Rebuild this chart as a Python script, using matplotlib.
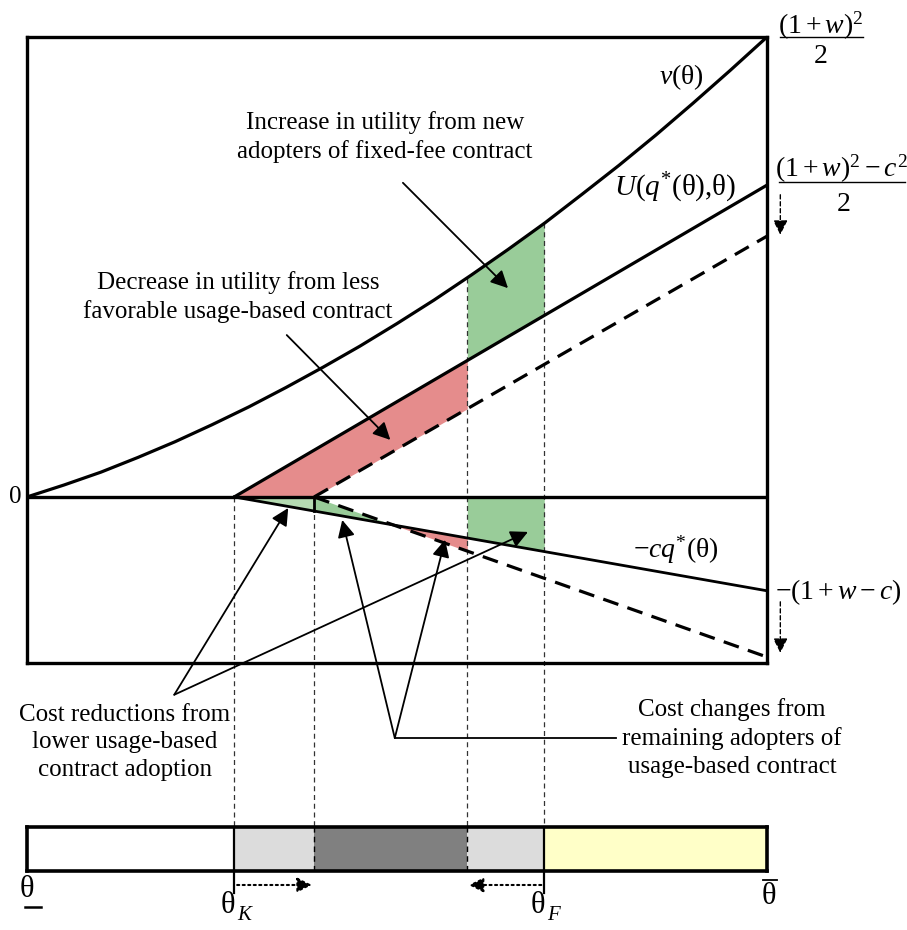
import numpy as np
import matplotlib.pyplot as plt

plt.rcParams['font.family'] = ['Liberation Serif', 'DejaVu Serif']
plt.rcParams['mathtext.fontset'] = 'custom'
plt.rcParams['mathtext.rm'] = 'Liberation Serif'
plt.rcParams['mathtext.it'] = 'Liberation Serif:italic'

# type axis runs from theta_low (0) to theta_high (1), utility scaled so v(theta_high) = 1
theta_grid = [0.0, 0.05, 0.1, 0.15, 0.2, 0.25, 0.3, 0.35, 0.4, 0.45, 0.5,
              0.55, 0.6, 0.65, 0.7, 0.75, 0.8, 0.85, 0.9, 0.95, 1.0]
v_theta = [0.0, 0.026, 0.054, 0.086, 0.120, 0.157, 0.196, 0.238, 0.282, 0.328, 0.377,
           0.428, 0.482, 0.538, 0.596, 0.658, 0.721, 0.787, 0.856, 0.927, 1.0]

theta_K = 0.28
theta_K_new = 0.388
theta_F_new = 0.595
theta_F = 0.699

u_theta = [theta_K, 1.0]
u_vals = [0.0, 0.678]
u_new_theta = [theta_K_new, 1.0]
u_new_vals = [0.0, 0.567]
cost_theta = [theta_K, 1.0]
cost_vals = [0.0, -0.204]
cost_new_theta = [theta_K_new, 1.0]
cost_new_vals = [0.0, -0.348]

bar_edges = [0.0, theta_K, theta_K_new, theta_F_new, theta_F, 1.0]
bar_colors = ['white', '#dcdcdc', '#808080', '#dcdcdc', '#ffffc8']

GREEN = '#99cc99'
LIGHT_GREEN = '#b5dbb2'
RED = '#e58c8c'
FS = 18
MS = 20
LSP = 1.33

fig = plt.figure(figsize=(9.07, 9.30), dpi=100)
ax = fig.add_axes([27 / 907, 1 - 663 / 930, 740 / 907, 626 / 930])
ax.set_xlim(0, 1)
ax.set_ylim(-0.361, 1.0)
ax.set_xticks([])
ax.set_yticks([])
for s in ax.spines.values():
    s.set_linewidth(2.4)


def at(t, th, vals, left=np.nan):
    return np.interp(t, th, vals, left=left)


# shaded areas
t = np.linspace(theta_K, theta_F_new, 300)
ax.fill_between(t, at(t, u_theta, u_vals),
                np.maximum(at(t, u_new_theta, u_new_vals, left=0.0), 0.0),
                color=RED, lw=0, zorder=1)
t = np.linspace(theta_F_new, theta_F, 100)
ax.fill_between(t, at(t, theta_grid, v_theta), at(t, u_theta, u_vals),
                color=GREEN, lw=0, zorder=1)
t = np.linspace(theta_K, theta_K_new, 100)
ax.fill_between(t, 0, at(t, cost_theta, cost_vals), color=LIGHT_GREEN, lw=0, zorder=1)
t = np.linspace(theta_K_new, theta_F_new, 300)
s_line = at(t, cost_theta, cost_vals)
d_line = at(t, cost_new_theta, cost_new_vals)
ax.fill_between(t, s_line, d_line, where=d_line >= s_line, interpolate=True,
                color=GREEN, lw=0, zorder=1)
ax.fill_between(t, s_line, d_line, where=d_line < s_line, interpolate=True,
                color=RED, lw=0, zorder=1)
t = np.linspace(theta_F_new, theta_F, 100)
ax.fill_between(t, 0, at(t, cost_theta, cost_vals), color=GREEN, lw=0, zorder=1)

# thin guide lines down to the type bar
bar_top = -0.717
guide_starts = [(theta_K, 0.0), (theta_K_new, 0.0),
                (theta_F_new, at(theta_F_new, theta_grid, v_theta)),
                (theta_F, at(theta_F, theta_grid, v_theta))]
for gx, gy in guide_starts:
    ax.plot([gx, gx], [gy, bar_top], color='#333333', lw=0.9,
            ls=(0, (4, 3)), clip_on=False, zorder=2)

# curves
ax.axhline(0, color='k', lw=2.4, zorder=3)
ax.plot(theta_grid, v_theta, color='k', lw=2.3, zorder=3)
ax.plot(u_theta, u_vals, color='k', lw=2.3, zorder=3)
ax.plot(u_new_theta, u_new_vals, color='k', lw=2.3, ls=(0, (5, 3)), zorder=3)
ax.plot(cost_theta, cost_vals, color='k', lw=2.0, zorder=3)
ax.plot(cost_new_theta, cost_new_vals, color='k', lw=2.3, ls=(0, (5, 3)), zorder=3)
ax.plot([theta_K_new, theta_K_new], [0, at(theta_K_new, cost_theta, cost_vals)],
        color='k', lw=2.0, zorder=3)

# curve labels
ax.text(0.884, 0.913, r'$v$(θ)', fontsize=MS, ha='center', va='center')
ax.text(0.876, 0.672, r'$U(q^{*}$(θ),θ)', fontsize=21, ha='center', va='center')
ax.text(0.877, -0.115, r'$-cq^{*}$(θ)', fontsize=MS, ha='center', va='center')
ax.text(1.011, -0.207, r'$-(1+w-c)$', fontsize=MS, ha='left', va='center')
ax.text(-0.008, 0.0, '0', fontsize=FS, ha='right', va='center')

ax.text(1.072, 1.024, r'$(1+w)^2$', fontsize=MS, ha='center', va='center')
ax.plot([1.018, 1.130], [1.0, 1.0], color='k', lw=1.0, clip_on=False)
ax.text(1.072, 0.957, '2', fontsize=MS, ha='center', va='center')
ax.text(1.101, 0.713, r'$(1+w)^2-c^2$', fontsize=MS, ha='center', va='center')
ax.plot([1.016, 1.186], [0.685, 0.685], color='k', lw=1.0, clip_on=False)
ax.text(1.103, 0.635, '2', fontsize=MS, ha='center', va='center')

down = dict(arrowstyle='-|>', ls=(0, (3, 2)), lw=1.0, color='k',
            mutation_scale=22, shrinkA=0, shrinkB=0)
ax.annotate('', xy=(1.018, 0.570), xytext=(1.018, 0.657), arrowprops=down,
            annotation_clip=False)
ax.annotate('', xy=(1.018, -0.339), xytext=(1.018, -0.228), arrowprops=down,
            annotation_clip=False)

# explanatory notes
arr = dict(arrowstyle='-|>', lw=1.3, color='k', mutation_scale=26,
           shrinkA=0, shrinkB=0)
ax.text(0.484, 0.783, 'Increase in utility from new\nadopters of fixed-fee contract',
        fontsize=FS, ha='center', va='center', linespacing=LSP)
ax.annotate('', xy=(0.650, 0.454), xytext=(0.508, 0.683), arrowprops=arr)
ax.text(0.285, 0.435, 'Decrease in utility from less\nfavorable usage-based contract',
        fontsize=FS, ha='center', va='center', linespacing=LSP)
ax.annotate('', xy=(0.491, 0.124), xytext=(0.351, 0.352), arrowprops=arr)

ax.text(0.132, -0.533, 'Cost reductions from\nlower usage-based\ncontract adoption',
        fontsize=FS, ha='center', va='center', linespacing=LSP)
for tip in [(0.353, -0.024), (0.677, -0.076)]:
    ax.annotate('', xy=tip, xytext=(0.199, -0.430), arrowprops=arr,
                annotation_clip=False)

ax.text(0.953, -0.524, 'Cost changes from\nremaining adopters of\nusage-based contract',
        fontsize=FS, ha='center', va='center', linespacing=LSP)
ax.plot([0.497, 0.796], [-0.524, -0.524], color='k', lw=1.3, clip_on=False)
for tip in [(0.426, -0.050), (0.565, -0.093)]:
    ax.annotate('', xy=tip, xytext=(0.497, -0.524), arrowprops=arr,
                annotation_clip=False)

# type bar
axb = fig.add_axes([27 / 907, 1 - 871 / 930, 740 / 907, 44 / 930])
axb.set_xlim(0, 1)
axb.set_ylim(0, 1)
axb.set_xticks([])
axb.set_yticks([])
for s in axb.spines.values():
    s.set_linewidth(2.6)
for i, c in enumerate(bar_colors):
    axb.axvspan(bar_edges[i], bar_edges[i + 1], color=c, lw=0)
for bx in [theta_K_new, theta_F_new]:
    axb.plot([bx, bx], [0, 1], color='k', lw=1.0, ls=(0, (4, 3)))
for bx in [theta_K, theta_F]:
    axb.plot([bx, bx], [-0.5, 1], color='k', lw=1.6, clip_on=False)

dots = dict(arrowstyle='-|>', ls=':', lw=1.5, color='k', mutation_scale=22,
            shrinkA=0, shrinkB=0)
axb.annotate('', xy=(0.385, -0.318), xytext=(0.284, -0.318), arrowprops=dots,
             annotation_clip=False)
axb.annotate('', xy=(0.597, -0.318), xytext=(0.695, -0.318), arrowprops=dots,
             annotation_clip=False)

axb.text(0.0, -0.43, 'θ', fontsize=22, ha='center', va='center')
axb.plot([-0.003, 0.019], [-0.82, -0.82], color='k', lw=1.8, clip_on=False)
axb.text(1.003, -0.58, 'θ', fontsize=22, ha='center', va='center')
axb.plot([0.994, 1.013], [-0.2, -0.2], color='k', lw=1.3, clip_on=False)
for bx, sub in [(theta_K, 'K'), (theta_F, 'F')]:
    axb.text(bx + 0.001, -0.78, 'θ', fontsize=22, ha='right', va='center')
    axb.text(bx + 0.004, -1.02, sub, fontsize=15, ha='left', va='center',
             style='italic')

fig.savefig('out.png', dpi=100)
